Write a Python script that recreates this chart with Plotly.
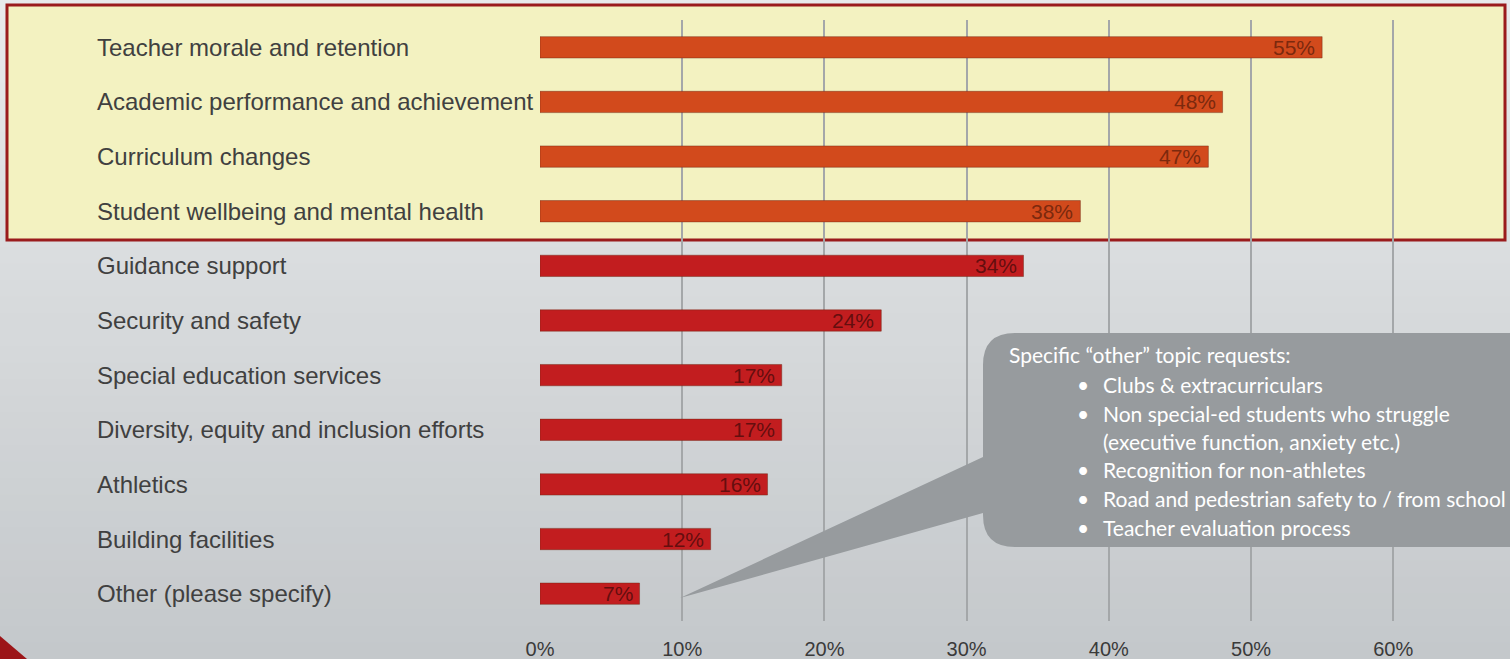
import plotly.graph_objects as go

categories = [
    "Teacher morale and retention",
    "Academic performance and achievement",
    "Curriculum changes",
    "Student wellbeing and mental health",
    "Guidance support",
    "Security and safety",
    "Special education services",
    "Diversity, equity and inclusion efforts",
    "Athletics",
    "Building facilities",
    "Other (please specify)",
]
values = [55, 48, 47, 38, 34, 24, 17, 17, 16, 12, 7]
highlighted = [True, True, True, True, False, False, False, False, False, False, False]
tick_vals = [0, 10, 20, 30, 40, 50, 60]
tick_text = ["0%", "10%", "20%", "30%", "40%", "50%", "60%"]

callout_title = "Specific \u201cother\u201d topic requests:"
callout_items = [
    ("\u2022", "Clubs & extracurriculars"),
    ("\u2022", "Non special-ed students who struggle"),
    ("", "(executive function, anxiety etc.)"),
    ("\u2022", "Recognition for non-athletes"),
    ("\u2022", "Road and pedestrian safety to / from school"),
    ("\u2022", "Teacher evaluation process"),
]

W, H = 1510, 659
L, R, T, B = 540, 3, 20, 38
PW, PH = W - L - R, H - T - B


def px(x):
    return (x - L) / PW


def py(y):
    return (H - B - y) / PH


bar_colors = ["#d24a1c" if h else "#c21d1f" for h in highlighted]
text_colors = ["rgba(100,32,10,0.8)" if h else "rgba(75,10,10,0.8)" for h in highlighted]

fig = go.Figure(
    go.Bar(
        x=values,
        y=categories,
        orientation="h",
        marker=dict(color=bar_colors, line=dict(color="rgba(110,40,20,0.45)", width=1)),
        width=0.39,
        hoverinfo="skip",
    )
)

shapes = []
# background gradient
top_rgb = (232, 234, 235)
bot_rgb = (196, 200, 203)
N = 40
for i in range(N):
    f = i / (N - 1)
    c = tuple(round(top_rgb[k] + (bot_rgb[k] - top_rgb[k]) * f) for k in range(3))
    y0 = i * H / N
    y1 = (i + 1) * H / N + 1
    shapes.append(dict(type="rect", xref="paper", yref="paper",
                       x0=px(0), x1=px(W), y0=py(y1), y1=py(y0),
                       fillcolor="rgb(%d,%d,%d)" % c, line=dict(width=0), layer="below"))
# highlight box
shapes.append(dict(type="rect", xref="paper", yref="paper",
                   x0=px(7), x1=px(1505), y0=py(240), y1=py(5),
                   fillcolor="#f3f2c1", line=dict(color="#9a1b1c", width=3), layer="below"))
# red corner triangle
shapes.append(dict(type="path", xref="paper", yref="paper",
                   path="M %f,%f L %f,%f L %f,%f Z" % (px(0), py(636), px(0), py(H), px(27), py(H)),
                   fillcolor="#9c1518", line=dict(width=0), layer="above"))
# callout with pointer
bx0, bx1, by0, by1, rr = 983, 1540, 333, 547, 32
tipx, tipy = 680, 598
path = (
    f"M {px(bx0)},{py(by0 + rr)} "
    f"Q {px(bx0)},{py(by0)} {px(bx0 + rr)},{py(by0)} "
    f"L {px(bx1)},{py(by0)} L {px(bx1)},{py(by1)} "
    f"L {px(bx0 + rr)},{py(by1)} "
    f"Q {px(bx0)},{py(by1)} {px(bx0)},{py(by1 - rr)} "
    f"L {px(bx0)},{py(513)} L {px(tipx)},{py(tipy)} L {px(bx0)},{py(457)} Z"
)
shapes.append(dict(type="path", xref="paper", yref="paper", path=path,
                   fillcolor="#979b9e", line=dict(width=0), layer="above"))

annotations = []
for cat in categories:
    annotations.append(dict(x=px(95), xref="paper", y=cat, yref="y", text=cat,
                            showarrow=False, xanchor="left", yanchor="middle",
                            font=dict(family="Liberation Sans, Arial", size=24, color="#404040")))

# value labels inside bar ends
for cat, v, tc in zip(categories, values, text_colors):
    annotations.append(dict(x=v, xref="x", y=cat, yref="y", text=f"{v}%",
                            showarrow=False, xanchor="right", yanchor="middle", xshift=-5,
                            font=dict(family="Liberation Sans, Arial", size=21, color=tc)))

cf = dict(family="Lato, Open Sans", size=21, color="white")
annotations.append(dict(x=px(1007), xref="paper", y=py(355), yref="paper", text=callout_title,
                        showarrow=False, xanchor="left", yanchor="middle", font=cf))
line_y = [384, 413, 441, 469, 498, 527]
for (b, t), yy in zip(callout_items, line_y):
    if b:
        annotations.append(dict(x=px(1083), xref="paper", y=py(yy), yref="paper", text=b,
                                showarrow=False, xanchor="center", yanchor="middle", font=cf))
    annotations.append(dict(x=px(1101), xref="paper", y=py(yy), yref="paper", text=t,
                            showarrow=False, xanchor="left", yanchor="middle", font=cf))

fig.update_layout(
    width=W, height=H,
    margin=dict(l=L, r=R, t=T, b=B, pad=0),
    paper_bgcolor="#dfe2e3",
    plot_bgcolor="rgba(0,0,0,0)",
    showlegend=False,
    shapes=shapes,
    annotations=annotations,
    xaxis=dict(range=[0, 68], tickvals=tick_vals, ticktext=tick_text,
               showgrid=True, gridcolor="#a4a7a9", gridwidth=2, zeroline=False,
               showline=False, ticks="", ticklabelstandoff=14, automargin=False,
               tickfont=dict(family="Liberation Sans, Arial", size=20, color="#3a3a3a"),
               fixedrange=True),
    yaxis=dict(type="category", categoryorder="array", categoryarray=categories,
               range=[10.5, -0.5], showticklabels=False, showgrid=False, zeroline=False,
               automargin=False, fixedrange=True),
    bargap=0.6,
)

fig.write_html("out.html", config={"displayModeBar": False},
               post_script="document.body.style.margin='0';document.body.style.overflow='hidden';")
